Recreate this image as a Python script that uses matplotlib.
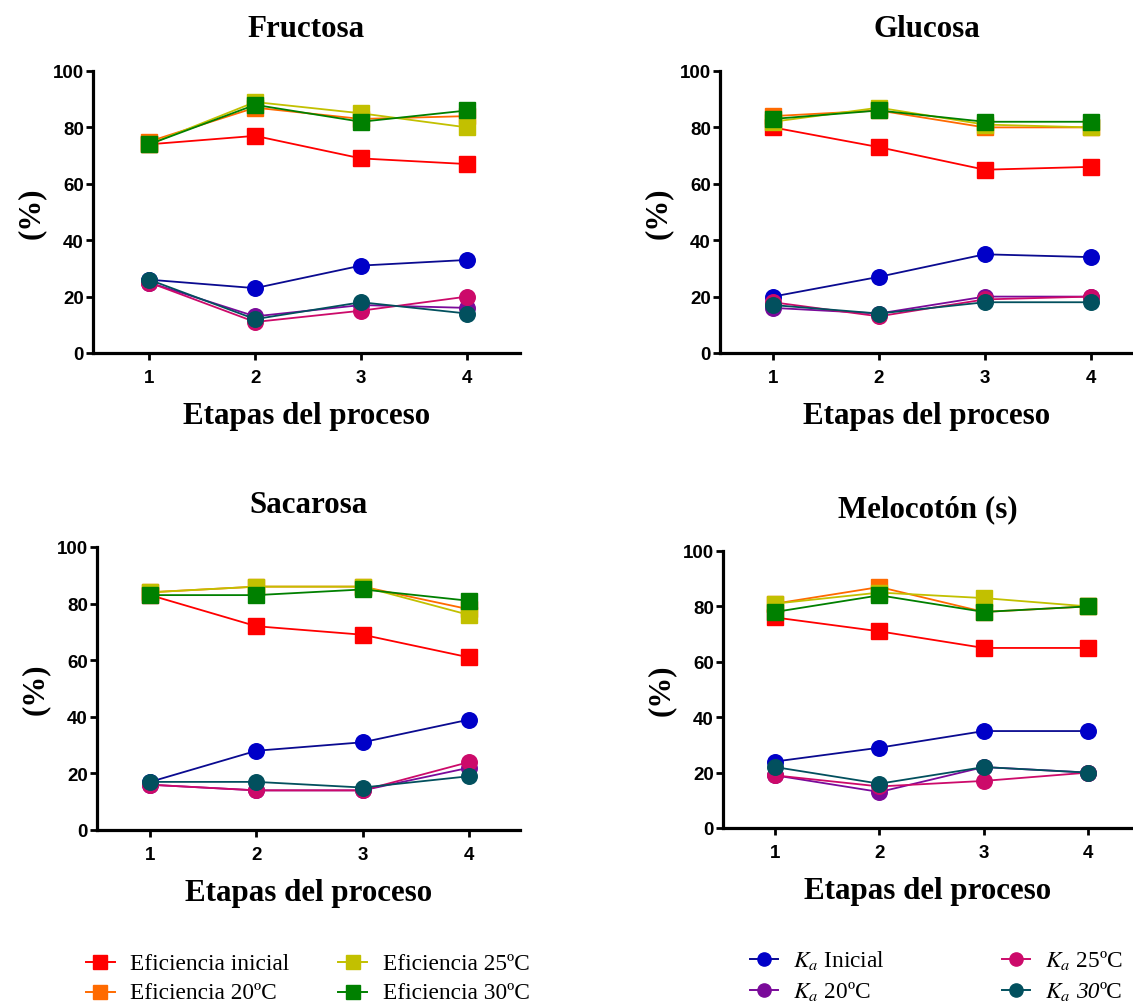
import matplotlib
matplotlib.use("Agg")
import matplotlib.pyplot as plt
from matplotlib.lines import Line2D

plt.rcParams['mathtext.fontset'] = 'stix'

etapas = [1, 2, 3, 4]
paneles = ["Fructosa", "Glucosa", "Sacarosa", "Melocotón (s)"]

# Fructosa
fru_ef_ini = [74, 77, 69, 67]
fru_ef_20 = [75, 87, 83, 84]
fru_ef_25 = [74, 89, 85, 80]
fru_ef_30 = [74, 88, 82, 86]
fru_ka_ini = [26, 23, 31, 33]
fru_ka_20 = [25, 13, 17, 16]
fru_ka_25 = [25, 11, 15, 20]
fru_ka_30 = [26, 12, 18, 14]

# Glucosa
glu_ef_ini = [80, 73, 65, 66]
glu_ef_20 = [84, 86, 80, 80]
glu_ef_25 = [82, 87, 81, 80]
glu_ef_30 = [83, 86, 82, 82]
glu_ka_ini = [20, 27, 35, 34]
glu_ka_20 = [16, 14, 20, 20]
glu_ka_25 = [18, 13, 19, 20]
glu_ka_30 = [17, 14, 18, 18]

# Sacarosa
sac_ef_ini = [83, 72, 69, 61]
sac_ef_20 = [84, 86, 86, 78]
sac_ef_25 = [84, 86, 86, 76]
sac_ef_30 = [83, 83, 85, 81]
sac_ka_ini = [17, 28, 31, 39]
sac_ka_20 = [16, 14, 14, 22]
sac_ka_25 = [16, 14, 14, 24]
sac_ka_30 = [17, 17, 15, 19]

# Melocotón (s)
mel_ef_ini = [76, 71, 65, 65]
mel_ef_20 = [81, 87, 78, 80]
mel_ef_25 = [81, 85, 83, 80]
mel_ef_30 = [78, 84, 78, 80]
mel_ka_ini = [24, 29, 35, 35]
mel_ka_20 = [19, 13, 22, 20]
mel_ka_25 = [19, 15, 17, 20]
mel_ka_30 = [22, 16, 22, 20]

datos = [
    [fru_ef_ini, fru_ef_20, fru_ef_25, fru_ef_30, fru_ka_ini, fru_ka_20, fru_ka_25, fru_ka_30],
    [glu_ef_ini, glu_ef_20, glu_ef_25, glu_ef_30, glu_ka_ini, glu_ka_20, glu_ka_25, glu_ka_30],
    [sac_ef_ini, sac_ef_20, sac_ef_25, sac_ef_30, sac_ka_ini, sac_ka_20, sac_ka_25, sac_ka_30],
    [mel_ef_ini, mel_ef_20, mel_ef_25, mel_ef_30, mel_ka_ini, mel_ka_20, mel_ka_25, mel_ka_30],
]

# legend labels; each is a list of (text, italic) pieces
nombres = [
    [("Eficiencia inicial", False)],
    [("Eficiencia 20ºC", False)],
    [("Eficiencia 25ºC", False)],
    [("Eficiencia 30ºC", False)],
    [(r"$K_a$ Inicial", False)],
    [(r"$K_a$ 20ºC", False)],
    [(r"$K_a$ 25ºC", False)],
    [(r"$K_a$ ", False), ("30", True), ("ºC", False)],
]
colores = ["#FF0000", "#FF6A00", "#C2C000", "#008000",
           "#0000C8", "#7A0A9A", "#CC0A6A", "#02505E"]
colores_linea = ["#FF0000", "#FF6A00", "#C2C000", "#008000",
                 "#0A0A90", "#7A0A9A", "#CC0A6A", "#02505E"]
marcadores = ["s", "s", "s", "s", "o", "o", "o", "o"]

fig = plt.figure(figsize=(11.33, 10.03), dpi=100)
W, H = 1133, 1003

# axes rectangles in pixels: left, right, top, bottom, xlim
rects = [
    (93, 520, 72, 354, (0.47, 4.5)),
    (720, 1133, 72, 354, (0.5, 4.4)),
    (97, 520, 548, 831, (0.5, 4.48)),
    (723, 1133, 552, 829, (0.5, 4.43)),
]

serif = "Liberation Serif"
sans = "Liberation Sans"

for i, (l, r, t, b, xl) in enumerate(rects):
    ax = fig.add_axes([l / W, (H - b) / H, (r - l) / W, (b - t) / H])
    series = datos[i]
    for j in range(8):
        ax.plot(etapas, series[j], color=colores_linea[j], lw=1.3,
                marker=marcadores[j], markersize=11.8 if j < 4 else 11.2,
                markerfacecolor=colores[j], markeredgecolor=colores[j], zorder=3, clip_on=False)
    ax.set_xlim(*xl)
    ax.set_ylim(0, 100)
    ax.set_yticks([0, 20, 40, 60, 80, 100])
    ax.set_xticks(etapas)
    for s in ["top", "right"]:
        ax.spines[s].set_visible(False)
    for s in ["left", "bottom"]:
        ax.spines[s].set_linewidth(2.3)
    ax.tick_params(direction="out", width=2.0, length=5, labelsize=13.5)
    ax.tick_params(axis="x", pad=6.5)
    ax.tick_params(axis="y", pad=1.5)
    for lab in ax.get_xticklabels() + ax.get_yticklabels():
        lab.set_fontfamily(sans)
        lab.set_fontweight("bold")
    ax.set_title(paneles[i], fontfamily=serif, fontweight="bold", fontsize=22.3, pad=25)
    ax.set_xlabel("Etapas del proceso", fontfamily=serif, fontweight="bold", fontsize=22.3, labelpad=10.5)
    ax.set_ylabel("(%)", fontfamily=serif, fontweight="bold", fontsize=22.3, labelpad=5)

renderer = fig.canvas.get_renderer()

# legends (drawn as figure-level handles and texts)
def entrada(xl0, xl1, xm, ym, xt, yb, j):
    fig.add_artist(Line2D([xl0 / W, xl1 / W], [1 - ym / H, 1 - ym / H], transform=fig.transFigure,
                          color=colores_linea[j], lw=1.4))
    fig.add_artist(Line2D([xm / W], [1 - ym / H], transform=fig.transFigure, marker=marcadores[j],
                          markersize=9.5, color=colores[j], lw=0))
    x = xt
    for texto, italica in nombres[j]:
        t = fig.text(x / W, 1 - yb / H, texto, fontfamily=serif, fontsize=16.8, va="baseline",
                     ha="left", fontstyle="italic" if italica else "normal")
        bb = t.get_window_extent(renderer=renderer)
        x += bb.width
        if texto.endswith(" "):
            x += 4.5

entrada(86, 115, 100, 963, 130, 970, 0)
entrada(86, 115, 100, 993, 130, 999, 1)
entrada(338, 367, 353, 963, 383, 970, 2)
entrada(338, 367, 353, 993, 383, 999, 3)
entrada(750, 778, 764, 960, 793, 967, 4)
entrada(750, 778, 764, 991, 793, 998, 5)
entrada(1002, 1030, 1016, 960, 1045, 967, 6)
entrada(1002, 1030, 1016, 991, 1045, 998, 7)

fig.savefig("out.png", dpi=100)
